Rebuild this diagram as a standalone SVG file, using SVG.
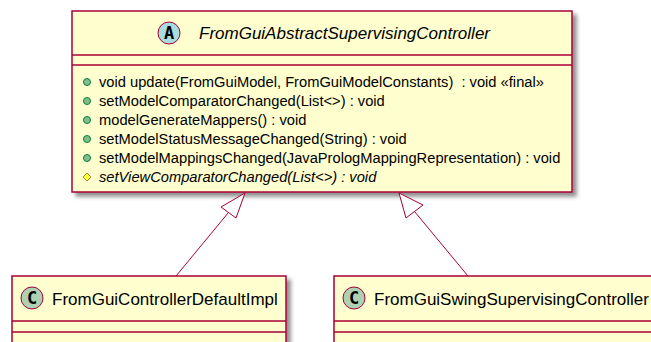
<svg xmlns="http://www.w3.org/2000/svg" width="651" height="342" viewBox="0 0 651 342">
<defs>
<filter id="sh" x="-5%" y="-5%" width="115%" height="125%">
<feGaussianBlur in="SourceAlpha" stdDeviation="2"/>
<feOffset dx="4" dy="4" result="b"/>
<feComponentTransfer><feFuncA type="linear" slope="0.45"/></feComponentTransfer>
<feMerge><feMergeNode/><feMergeNode in="SourceGraphic"/></feMerge>
</filter>
</defs>
<style>
.box{fill:#FEFECE;stroke:#A80036;stroke-width:1.5}
.sep{stroke:#A80036;stroke-width:1.5}
.t{font-family:"Liberation Sans",Arial,sans-serif;fill:#000}
.title{font-size:17px}
.m{font-size:14.7px}
.pub{fill:#84BE84;stroke:#038048;stroke-width:1}
.prot{fill:#FFFF44;stroke:#B38D22;stroke-width:1}
.edge{stroke:#A80036;stroke-width:1;fill:none}
.head{fill:#FFFFFF;stroke:#A80036;stroke-width:1}
.circ{stroke:#A80036;stroke-width:1}
.ltr{font-family:"DejaVu Sans Mono","Liberation Mono",monospace;font-weight:bold;font-size:17px;fill:#000}
</style>
<rect width="651" height="342" fill="#FFFFFF"/>
<g id="FromGuiAbstractSupervisingController">
<rect class="box" x="72" y="11" width="500" height="181" filter="url(#sh)"/>
<line class="sep" x1="72" y1="55" x2="572" y2="55"/>
<line class="sep" x1="72" y1="65" x2="572" y2="65"/>
<circle class="circ" cx="169" cy="33" r="11" fill="#A9DCDF"/>
<text class="ltr" x="169" y="39" text-anchor="middle">A</text>
<text class="t title" x="199" y="38.5" font-style="italic">FromGuiAbstractSupervisingController</text>
<circle class="pub" cx="87" cy="82" r="3.5"/>
<text class="t m" x="99" y="87" xml:space="preserve">void update(FromGuiModel, FromGuiModelConstants)  : void «final»</text>
<circle class="pub" cx="87" cy="101" r="3.5"/>
<text class="t m" x="99" y="106">setModelComparatorChanged(List&lt;&gt;) : void</text>
<circle class="pub" cx="87" cy="120" r="3.5"/>
<text class="t m" x="99" y="125">modelGenerateMappers() : void</text>
<circle class="pub" cx="87" cy="139" r="3.5"/>
<text class="t m" x="99" y="144">setModelStatusMessageChanged(String) : void</text>
<circle class="pub" cx="87" cy="158" r="3.5"/>
<text class="t m" x="99" y="163">setModelMappingsChanged(JavaPrologMappingRepresentation) : void</text>
<polygon class="prot" points="87,173 91,177 87,181 83,177"/>
<text class="t m" x="99" y="182" font-style="italic">setViewComparatorChanged(List&lt;&gt;) : void</text>
</g>
<g id="FromGuiControllerDefaultImpl">
<rect class="box" x="12" y="276" width="274" height="80" filter="url(#sh)"/>
<line class="sep" x1="12" y1="321" x2="286" y2="321"/>
<line class="sep" x1="12" y1="332" x2="286" y2="332"/>
<circle class="circ" cx="32" cy="298" r="11" fill="#ADD1B2"/>
<text class="ltr" x="32" y="304" text-anchor="middle">C</text>
<text class="t title" x="52" y="304.5">FromGuiControllerDefaultImpl</text>
</g>
<g id="FromGuiSwingSupervisingController">
<rect class="box" x="334" y="276" width="330" height="80" filter="url(#sh)"/>
<line class="sep" x1="334" y1="321" x2="664" y2="321"/>
<line class="sep" x1="334" y1="332" x2="664" y2="332"/>
<circle class="circ" cx="354" cy="298" r="11" fill="#ADD1B2"/>
<text class="ltr" x="354" y="304" text-anchor="middle">C</text>
<text class="t title" x="374" y="304.5">FromGuiSwingSupervisingController</text>
</g>
<g id="connectors">
<line class="edge" x1="228.5" y1="212.5" x2="176" y2="276"/>
<polygon class="head" points="245,193 221,207 236,218"/>
<line class="edge" x1="414.5" y1="211.5" x2="468" y2="276"/>
<polygon class="head" points="399,193 406,218 423,205"/>
</g>
</svg>
